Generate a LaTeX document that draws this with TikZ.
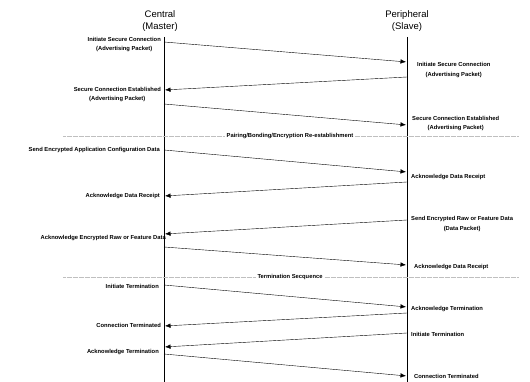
\documentclass[tikz,border=0pt]{standalone}
\usepackage{fontspec}
\setmainfont{Liberation Sans}
\usepackage{tikz}
\usetikzlibrary{arrows.meta}
\tikzset{
    lbl/.style = {font=\fontsize{5.8}{9.2}\selectfont\bfseries, align=center, inner sep=0pt},
    lbl_left/.style = {lbl, anchor=east},
    lbl_right/.style = {lbl, anchor=west},
    actor/.style = {font=\fontsize{9.5}{12.5}\selectfont, align=center, inner sep=0pt},
    lifeline/.style = {draw=black, semithick},
    msg/.style = {->, draw=black, thin, shorten >=1pt},
    phase/.style = {draw=gray!50, densely dotted, very thin},
    phase_lbl/.style = {lbl, fill=white, inner sep=1.5pt}
}

\begin{document}
\begin{tikzpicture}
            [x=1pt, y={(0pt,-1pt)}, >={Latex[length=5.5pt, width=4.5pt]}]

            \useasboundingbox (0,0) rectangle (530,382);

            \node [actor] (central) at (160,21) {Central\\(Master)};
            \node [actor] (periph) at (407,21) {Peripheral\\(Slave)};
            \coordinate (ctop) at (164,37);
            \coordinate (cbot) at (164,382);
            \coordinate (ptop) at (407,37);
            \coordinate (pbot) at (407,382);
            \draw [lifeline] (ctop) -- (cbot);
            \draw [lifeline] (ptop) -- (pbot);

            \foreach \i/\cy/\py in {1/42/62, 3/104/125, 4/150/172, 7/247/265, 8/285/307, 11/354/376} {
                \coordinate (c\i) at (164,\cy);
                \coordinate (p\i) at (407,\py);
                \draw [msg] (c\i) -- (p\i);
            }
            \foreach \i/\cy/\py in {2/90/77, 5/196/182, 6/234/220, 9/326/313, 10/347/333} {
                \coordinate (c\i) at (164,\cy);
                \coordinate (p\i) at (407,\py);
                \draw [msg] (p\i) -- (c\i);
            }

            \node [lbl_left] (l1) at (161,44.5) {Initiate Secure Connection\\(Advertising Packet)};
            \node [lbl_left] (l2) at (161,94.5) {Secure Connection Established\\(Advertising Packet)};
            \node [lbl_left] (l4) at (160,150) {Send Encrypted Application Configuration Data};
            \node [lbl_left] (l5) at (160,196) {Acknowledge Data Receipt};
            \node [lbl_left] (l6) at (166,238) {Acknowledge Encrypted Raw or Feature Data};
            \node [lbl_left] (l8) at (159,286) {Initiate Termination};
            \node [lbl_left] (l9) at (161,325) {Connection Terminated};
            \node [lbl_left] (l10) at (159,352) {Acknowledge Termination};

            \node [lbl_right] (r1) at (417,70) {Initiate Secure Connection\\(Advertising Packet)};
            \node [lbl_right] (r3) at (412,123.5) {Secure Connection Established\\(Advertising Packet)};
            \node [lbl_right] (r4) at (411,177) {Acknowledge Data Receipt};
            \node [lbl_right] (r6) at (411,224) {Send Encrypted Raw or Feature Data\\(Data Packet)};
            \node [lbl_right] (r7) at (414,267) {Acknowledge Data Receipt};
            \node [lbl_right] (r8) at (411,309) {Acknowledge Termination};
            \node [lbl_right] (r10) at (411,334) {Initiate Termination};
            \node [lbl_right] (r11) at (414,376) {Connection Terminated};

            \coordinate (pair_l) at (63,136);
            \coordinate (pair_r) at (518,136);
            \coordinate (term_l) at (63,277);
            \coordinate (term_r) at (518,277);
            \draw [phase] (pair_l) -- (pair_r);
            \draw [phase] (term_l) -- (term_r);
            \node [phase_lbl] (pair) at (290,136) {Pairing/Bonding/Encryption Re-establishment};
            \node [phase_lbl] (term) at (290,277) {Termination Secquence};
        \end{tikzpicture}
\end{document}
